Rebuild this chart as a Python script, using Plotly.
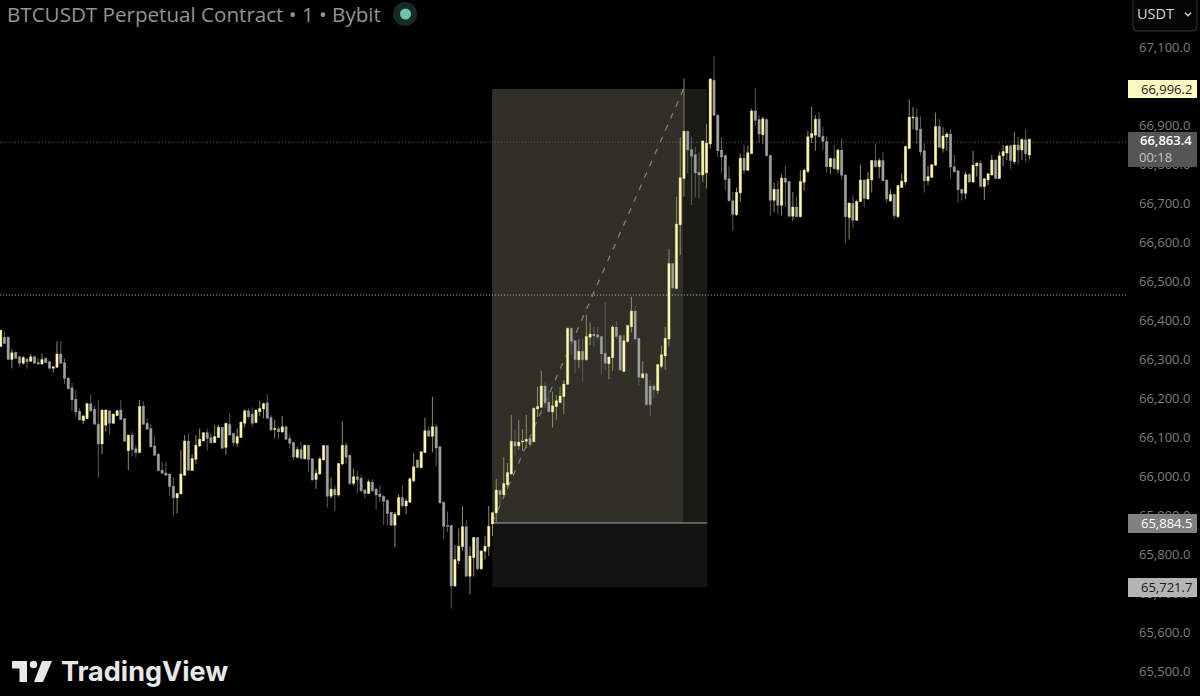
# BTCUSDT 1 minute candles with a long position tool drawn on top
import plotly.graph_objects as go

directions = (
    "UDDUDDUDUD" "DUDDUUDDDD" "DDUUDDDUUD" "UUDDUDDUDD"
    "DDDDDDDUUU" "DUUUUDDUUD" "UDDUUUDDUU" "UDDUDUDDDU"
    "DUDDUUUDUD" "UUDDUDDDUD" "DDDDDUUDUU" "UDUUDUDDDD"
    "DUUUDUUDUU" "UUUDUUUDUU" "UDUUUDDUUU" "UUDDUDUUDD"
    "DDUUDDUUUD" "DUDDDUUUUD" "UUUDDDDUUU" "DDDDDDUUDU"
    "UDDUDDUDUD" "DUDUUUUUDD" "DUDUDDUDUU" "DUUDUDDUDU"
    "UUUUDDDUUU" "DUUDDDDUDU" "UDUUUDUUUD" "UDUDU"
)

highs = [
    66374, 66372, 66356, 66325, 66319, 66306, 66308, 66302, 66313, 66306,
    66302, 66314, 66304, 66296, 66280, 66345, 66345, 66302, 66253, 66239,
    66220, 66174, 66157, 66186, 66208, 66179, 66195, 66171, 66171, 66169,
    66159, 66169, 66195, 66148, 66105, 66114, 66079, 66195, 66191, 66148,
    66133, 66101, 66058, 66037, 66036, 66007, 65996, 65957, 66067, 66105,
    66108, 66056, 66105, 66122, 66111, 66122, 66111, 66131, 66131, 66126,
    66135, 66161, 66109, 66122, 66139, 66171, 66173, 66176, 66171, 66193,
    66188, 66210, 66156, 66145, 66126, 66154, 66126, 66107, 66088, 66075,
    66087, 66079, 66079, 66044, 66017, 66049, 66079, 66078, 65996, 65977,
    66032, 66140, 66087, 66054, 66019, 66013, 66002, 65967, 65991, 65991,
    65971, 65976, 65951, 65938, 65907, 65908, 65954, 65976, 65942, 65996,
    66058, 66042, 66063, 66150, 66128, 66203, 66133, 66075, 65933, 65909,
    65873, 65823, 65866, 65923, 65887, 65820, 65842, 65842, 65810, 65846,
    65923, 65906, 65992, 65964, 66048, 66033, 66157, 66118, 66144, 66120,
    66157, 66103, 66174, 66229, 66270, 66242, 66219, 66216, 66208, 66228,
    66246, 66379, 66379, 66347, 66351, 66351, 66413, 66394, 66383, 66383,
    66359, 66445, 66306, 66387, 66396, 66362, 66362, 66388, 66460, 66435,
    66353, 66295, 66262, 66246, 66236, 66286, 66334, 66383, 66583, 66545,
    66716, 66868, 67019, 66884, 66870, 66844, 66829, 66861, 66902, 67019,
    67077, 66927, 66868, 66825, 66794, 66729, 66740, 66827, 66849, 66847,
    66942, 66994, 66925, 66921, 66917, 66823, 66752, 66757, 66774, 66795,
    66757, 66728, 66716, 66784, 66788, 66885, 66947, 66925, 66933, 66894,
    66871, 66817, 66848, 66837, 66865, 66774, 66700, 66720, 66709, 66798,
    66759, 66780, 66809, 66853, 66815, 66830, 66759, 66735, 66725, 66745,
    66775, 66846, 66966, 66946, 66943, 66922, 66853, 66795, 66800, 66932,
    66915, 66894, 66881, 66889, 66823, 66785, 66737, 66781, 66776, 66834,
    66804, 66810, 66763, 66775, 66823, 66812, 66832, 66849, 66849, 66849,
    66882, 66869, 66866, 66889, 66864,
]

body_tops = [
    66374, 66356, 66356, 66316, 66317, 66306, 66304, 66300, 66306, 66306,
    66291, 66299, 66302, 66293, 66280, 66313, 66313, 66291, 66251, 66226,
    66197, 66166, 66154, 66186, 66185, 66171, 66133, 66169, 66169, 66167,
    66159, 66167, 66169, 66147, 66105, 66105, 66070, 66178, 66179, 66135,
    66122, 66077, 66056, 66015, 66008, 66005, 65974, 65955, 66005, 66090,
    66090, 66045, 66079, 66094, 66111, 66111, 66099, 66101, 66125, 66125,
    66135, 66133, 66109, 66101, 66138, 66167, 66167, 66159, 66169, 66173,
    66186, 66188, 66150, 66122, 66121, 66126, 66126, 66096, 66086, 66068,
    66068, 66079, 66079, 66044, 66007, 66044, 66078, 66078, 65966, 65966,
    66032, 66079, 66079, 66053, 65998, 65998, 65994, 65964, 65985, 65984,
    65966, 65954, 65948, 65938, 65907, 65902, 65945, 65945, 65936, 65993,
    66024, 66041, 66062, 66116, 66116, 66126, 66126, 66075, 65933, 65873,
    65873, 65786, 65820, 65870, 65870, 65795, 65842, 65842, 65808, 65820,
    65871, 65906, 65964, 65963, 65981, 66009, 66089, 66088, 66087, 66090,
    66094, 66097, 66174, 66178, 66231, 66231, 66190, 66180, 66193, 66205,
    66236, 66379, 66379, 66347, 66320, 66320, 66358, 66364, 66364, 66362,
    66358, 66315, 66305, 66382, 66382, 66360, 66347, 66386, 66423, 66423,
    66353, 66262, 66262, 66231, 66231, 66286, 66311, 66353, 66545, 66545,
    66646, 66765, 66884, 66884, 66837, 66824, 66779, 66859, 66854, 67018,
    67015, 66925, 66836, 66822, 66762, 66706, 66727, 66815, 66815, 66829,
    66936, 66936, 66914, 66916, 66914, 66822, 66735, 66735, 66764, 66764,
    66755, 66690, 66690, 66755, 66784, 66870, 66878, 66915, 66915, 66871,
    66858, 66814, 66814, 66836, 66836, 66772, 66700, 66699, 66704, 66759,
    66759, 66761, 66809, 66809, 66809, 66809, 66759, 66722, 66722, 66745,
    66756, 66845, 66920, 66920, 66920, 66889, 66834, 66768, 66798, 66896,
    66896, 66872, 66877, 66877, 66793, 66783, 66735, 66773, 66773, 66797,
    66802, 66802, 66762, 66775, 66810, 66810, 66821, 66832, 66846, 66847,
    66849, 66849, 66863, 66862, 66863.4,
]

body_bottoms = [
    66332, 66340, 66299, 66299, 66302, 66289, 66289, 66293, 66294, 66289,
    66287, 66287, 66291, 66276, 66276, 66279, 66289, 66250, 66224, 66195,
    66164, 66144, 66142, 66147, 66167, 66133, 66082, 66082, 66130, 66135,
    66135, 66155, 66145, 66089, 66065, 66068, 66060, 66060, 66133, 66120,
    66075, 66053, 66014, 66007, 66002, 65973, 65944, 65944, 65954, 66002,
    66015, 66014, 66043, 66077, 66090, 66096, 66085, 66086, 66099, 66071,
    66073, 66105, 66085, 66084, 66099, 66135, 66152, 66135, 66137, 66165,
    66172, 66148, 66118, 66119, 66113, 66113, 66094, 66084, 66049, 66048,
    66045, 66044, 66042, 65990, 65991, 66005, 66041, 65948, 65948, 65951,
    65951, 66031, 66048, 65981, 65981, 65991, 65962, 65955, 65955, 65962,
    65951, 65947, 65935, 65904, 65874, 65874, 65900, 65923, 65923, 65933,
    65988, 66022, 66021, 66060, 66102, 66102, 66072, 65931, 65871, 65871,
    65718, 65718, 65783, 65819, 65743, 65743, 65791, 65762, 65762, 65807,
    65819, 65877, 65905, 65952, 65952, 65977, 66005, 66077, 66077, 66087,
    66089, 66080, 66088, 66172, 66176, 66188, 66165, 66164, 66178, 66188,
    66204, 66235, 66345, 66298, 66298, 66298, 66298, 66356, 66359, 66356,
    66313, 66289, 66288, 66303, 66358, 66272, 66268, 66345, 66383, 66351,
    66253, 66252, 66183, 66183, 66221, 66219, 66281, 66308, 66351, 66482,
    66481, 66644, 66763, 66836, 66820, 66777, 66772, 66772, 66777, 66851,
    66925, 66834, 66818, 66760, 66706, 66671, 66670, 66726, 66784, 66784,
    66827, 66912, 66877, 66875, 66822, 66707, 66707, 66694, 66694, 66753,
    66666, 66666, 66665, 66665, 66753, 66781, 66868, 66874, 66870, 66858,
    66793, 66793, 66788, 66786, 66771, 66665, 66663, 66656, 66656, 66704,
    66712, 66710, 66759, 66793, 66793, 66757, 66710, 66705, 66667, 66665,
    66740, 66754, 66840, 66918, 66887, 66831, 66757, 66757, 66766, 66797,
    66843, 66840, 66869, 66792, 66780, 66734, 66725, 66725, 66754, 66754,
    66795, 66742, 66742, 66759, 66772, 66763, 66763, 66821, 66828, 66809,
    66806, 66836, 66836, 66826, 66823,
]

lows = [
    66332, 66338, 66299, 66276, 66299, 66280, 66285, 66275, 66292, 66287,
    66285, 66285, 66289, 66273, 66265, 66279, 66287, 66236, 66222, 66166,
    66152, 66142, 66133, 66147, 66165, 66133, 65996, 66056, 66114, 66106,
    66133, 66155, 66144, 66089, 66015, 66051, 66048, 66058, 66132, 66118,
    66073, 66051, 66011, 66005, 66002, 65949, 65899, 65904, 65954, 66002,
    66014, 66014, 66031, 66075, 66089, 66065, 66084, 66085, 66099, 66071,
    66054, 66105, 66077, 66075, 66098, 66125, 66147, 66126, 66135, 66154,
    66148, 66147, 66116, 66096, 66094, 66111, 66092, 66071, 66041, 66045,
    66044, 66043, 66010, 65988, 65967, 66003, 66040, 65919, 65942, 65910,
    65947, 66028, 66032, 65976, 65976, 65955, 65960, 65943, 65954, 65960,
    65914, 65934, 65875, 65873, 65873, 65818, 65899, 65921, 65902, 65932,
    65983, 66020, 66020, 66060, 66102, 66061, 66025, 65930, 65839, 65856,
    65660, 65716, 65774, 65808, 65743, 65697, 65742, 65757, 65759, 65786,
    65795, 65846, 65882, 65922, 65949, 65966, 66004, 66052, 66067, 66065,
    66071, 66078, 66087, 66151, 66175, 66174, 66164, 66124, 66144, 66187,
    66159, 66233, 66311, 66264, 66276, 66242, 66296, 66336, 66332, 66349,
    66260, 66272, 66248, 66269, 66351, 66268, 66265, 66342, 66368, 66347,
    66233, 66250, 66182, 66154, 66199, 66211, 66276, 66272, 66332, 66478,
    66479, 66566, 66716, 66777, 66695, 66714, 66712, 66754, 66737, 66839,
    66924, 66818, 66777, 66733, 66704, 66629, 66667, 66702, 66774, 66782,
    66825, 66897, 66854, 66851, 66818, 66668, 66676, 66671, 66668, 66690,
    66666, 66654, 66663, 66663, 66731, 66777, 66854, 66834, 66868, 66836,
    66777, 66774, 66786, 66776, 66759, 66598, 66606, 66637, 66654, 66703,
    66689, 66708, 66727, 66792, 66763, 66756, 66701, 66704, 66658, 66663,
    66739, 66746, 66838, 66889, 66851, 66822, 66727, 66746, 66764, 66795,
    66841, 66829, 66834, 66763, 66778, 66701, 66706, 66710, 66752, 66752,
    66768, 66740, 66708, 66746, 66770, 66763, 66763, 66795, 66810, 66787,
    66800, 66798, 66810, 66806, 66812,
]

price_ticks = [65500, 65600, 65700, 65800, 65900, 66000, 66100, 66200, 66300,
               66400, 66500, 66600, 66700, 66800, 66900, 67000, 67100]

# where the tool and the levels sit against the axis ticks in the picture
tool_left, tool_mid, tool_right = 130.9, 181.9, 188.2
tool_top, tool_entry, tool_bottom = 66992, 65879.5, 65715.5
last_line = 66856
level_line = 66464

candle_no = list(range(len(highs)))
opens = [b if d == "U" else t for d, t, b in zip(directions, body_tops, body_bottoms)]
closes = [t if d == "U" else b for d, t, b in zip(directions, body_tops, body_bottoms)]

UP = "#fdf8ae"
DOWN = "#a0a0a0"
LABEL = "Open Sans"


def px(x):
    return x / 1127


def py(y):
    return 1 - y / 696


fig = go.Figure()

# wicks are dimmer than the bodies, so draw them as their own trace
fig.add_trace(go.Candlestick(
    x=candle_no, open=opens, high=highs, low=lows, close=closes,
    whiskerwidth=0, hoverinfo="skip",
    increasing=dict(line=dict(color="#8f8c5e", width=1), fillcolor=UP),
    decreasing=dict(line=dict(color="#5c5c5c", width=1), fillcolor=DOWN),
))
fig.add_trace(go.Candlestick(
    x=candle_no, open=opens, high=body_tops, low=body_bottoms, close=closes,
    whiskerwidth=0, hoverinfo="skip",
    increasing=dict(line=dict(color=UP, width=0), fillcolor=UP),
    decreasing=dict(line=dict(color=DOWN, width=0), fillcolor=DOWN),
))

shapes = [
    # position tool
    dict(type="rect", x0=tool_left, x1=tool_mid, y0=tool_entry, y1=tool_top,
         fillcolor="#302f28", line_width=0, layer="below"),
    dict(type="rect", x0=tool_mid, x1=tool_right, y0=tool_entry, y1=tool_top,
         fillcolor="#1b1b16", line_width=0, layer="below"),
    dict(type="rect", x0=tool_left, x1=tool_right, y0=tool_bottom, y1=tool_entry,
         fillcolor="#131313", line_width=0, layer="below"),
    dict(type="line", x0=tool_left, x1=tool_right, y0=tool_entry, y1=tool_entry,
         line=dict(color="#a8a8a0", width=1), layer="below"),
    dict(type="line", x0=tool_left, x1=tool_mid, y0=tool_entry, y1=tool_top,
         line=dict(color="#85857d", width=1.2, dash="6px,7px"), layer="below"),
    # horizontal levels, in data coordinates so they stay above the tool
    dict(type="line", x0=-1, x1=300, y0=last_line, y1=last_line,
         line=dict(color="#5e5e5e", width=1, dash="1px,2px"), layer="below"),
    dict(type="line", x0=-1, x1=300, y0=level_line, y1=level_line,
         line=dict(color="#bdbdb0", width=1, dash="1px,2px"), layer="below"),
]

# price tags on the axis
tags = [
    (80, 98, "#fff9c4"),
    (132, 167, "#555555"),
    (514, 533, "#808080"),
    (578, 597, "#b4b4b4"),
]
for top, bottom, colour in tags:
    shapes.append(dict(type="rect", xref="paper", yref="paper",
                       x0=px(1128), x1=px(1197), y0=py(bottom), y1=py(top),
                       fillcolor=colour, line_width=0))

# currency button
shapes.append(dict(type="path", xref="paper", yref="paper",
                   path=f"M {px(1133)} {py(-2)} L {px(1133)} {py(27)} Q {px(1133)} {py(31)} {px(1137)} {py(31)} "
                        f"L {px(1193)} {py(31)} Q {px(1197)} {py(31)} {px(1197)} {py(27)} L {px(1197)} {py(-2)}",
                   line=dict(color="#333333", width=1), fillcolor="#050505"))
shapes.append(dict(type="path", xref="paper", yref="paper",
                   path=f"M {px(1185)} {py(12.7)} L {px(1188)} {py(15.7)} L {px(1191)} {py(12.7)}",
                   line=dict(color="#d0d0d0", width=1.5)))

# status dot
shapes.append(dict(type="circle", xref="paper", yref="paper",
                   x0=px(393), x1=px(417), y0=py(26), y1=py(2),
                   fillcolor="#172a26", line_width=0))
shapes.append(dict(type="circle", xref="paper", yref="paper",
                   x0=px(400), x1=px(411), y0=py(19.5), y1=py(8.5),
                   fillcolor="#6cc5ab", line_width=0))

# TradingView logo
LOGO = "#e8e8e8"
shapes.append(dict(type="path", xref="paper", yref="paper", line_width=0, fillcolor=LOGO,
                   path=f"M {px(12)} {py(661)} L {px(27)} {py(661)} L {px(27)} {py(682)} L {px(19.5)} {py(682)} "
                        f"L {px(19.5)} {py(668.5)} L {px(12)} {py(668.5)} Z"))
shapes.append(dict(type="circle", xref="paper", yref="paper", line_width=0, fillcolor=LOGO,
                   x0=px(29.8), x1=px(37.2), y0=py(668.2), y1=py(660.8)))
shapes.append(dict(type="path", xref="paper", yref="paper", line_width=0, fillcolor=LOGO,
                   path=f"M {px(42)} {py(661)} L {px(52)} {py(661)} L {px(43)} {py(682)} L {px(34)} {py(682)} Z"))


def note(x, y, text, size, colour, anchor="left", weight=None, family=LABEL):
    fig.add_annotation(xref="paper", yref="paper", x=px(x), y=py(y), text=text,
                       showarrow=False, xanchor=anchor, yanchor="middle",
                       borderpad=0, borderwidth=0,
                       font=dict(family=family, size=size, color=colour, weight=weight))


note(7, 14, "BTCUSDT Perpetual Contract • 1 • Bybit", 20.6, "#949494")
note(1174, 14, "USDT", 14.5, "#d8d8d8", anchor="right")
note(1192, 89, "66,996.2", 13, "#1a1a1a", anchor="right")
note(1192, 140, "66,863.4", 13, "#ffffff", anchor="right", weight=600)
note(1172, 157, "00:18", 13, "#c4c4c4", anchor="right")
note(1192, 523, "65,884.5", 13, "#ffffff", anchor="right")
note(1192, 587, "65,721.7", 13, "#1a1a1a", anchor="right")
note(61, 671, "TradingView", 27, LOGO, weight=700, family="Inter")

fig.update_layout(
    width=1200, height=696, autosize=False,
    margin=dict(l=0, r=73, t=0, b=0, pad=0),
    paper_bgcolor="#000000", plot_bgcolor="#000000",
    showlegend=False, boxgap=0.2, shapes=shapes, dragmode=False,
    xaxis=dict(range=[-0.18, 300.0], visible=False, rangeslider=dict(visible=False)),
    yaxis=dict(range=[65435.9, 67220.5], side="right", tickvals=price_ticks,
               tickformat=",.1f", ticks="", ticklabelstandoff=11,
               showgrid=False, zeroline=False, showline=False, automargin=False,
               tickfont=dict(family=LABEL, size=13, color="#7e7e7e")),
)

# the page's default body margin would push the chart 8px in
fig.write_html("out.html", config=dict(displayModeBar=False),
               post_script="document.body.style.margin='0';document.body.style.background='#000';")
